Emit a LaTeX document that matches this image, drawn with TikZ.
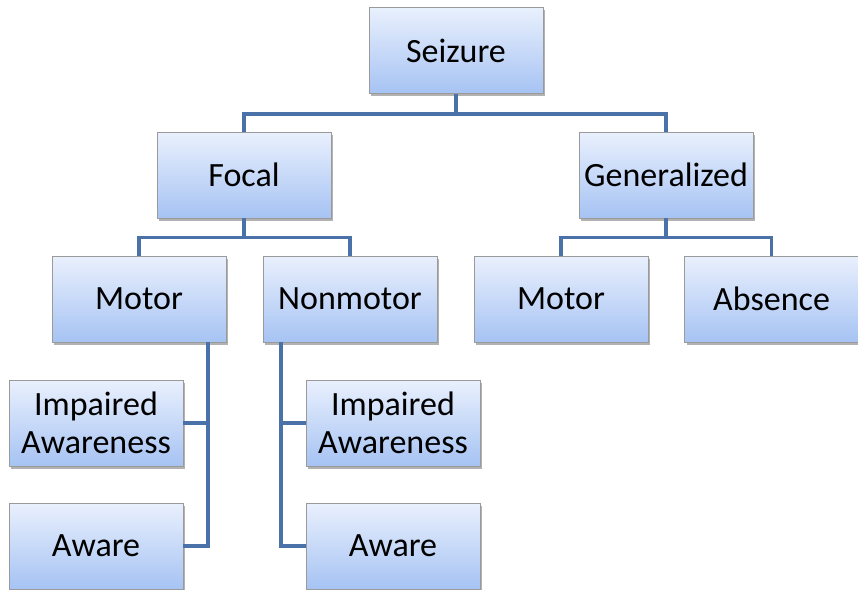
\documentclass[tikz,border=0pt]{standalone}
\usepackage{fontspec}
\setmainfont{Carlito}
\usetikzlibrary{shadows}
\definecolor{linkblue}{HTML}{4A72A8}
\definecolor{boxtop}{HTML}{E9F0FD}
\definecolor{boxbot}{HTML}{A6C3F3}
\definecolor{boxedge}{HTML}{9A9A9A}
\tikzset{
  box/.style={draw=boxedge, line width=0.8pt, top color=boxtop, bottom color=boxbot,
    minimum width=174pt, minimum height=86pt, inner sep=0pt, align=center,
    font=\fontsize{34}{38}\selectfont, text=black,
    drop shadow={shadow xshift=2pt, shadow yshift=-2.5pt, fill=black, opacity=0.3}},
  link/.style={draw=linkblue, line width=3.8pt}
}
\begin{document}
\begin{tikzpicture}[x=1pt,y=-1pt]
\useasboundingbox (0,0) rectangle (858,589);
\node[box] (seizure) at (456,50.5) {Seizure};
\node[box] (focal) at (244,175) {Focal};
\node[box] (gen) at (666,175) {Generalized};
\node[box] (motor) at (139,299) {Motor};
\node[box] (nonmotor) at (350,299) {Nonmotor};
\node[box] (gmotor) at (561,299) {Motor};
\node[box] (absence) at (771.5,299) {Absence};
\node[box] (impL) at (96,423) {Impaired\\Awareness};
\node[box] (awareL) at (96,546) {Aware};
\node[box] (impR) at (393,423) {Impaired\\Awareness};
\node[box] (awareR) at (393,546) {Aware};
\coordinate (sj) at ([yshift=-20pt]seizure.south);
\coordinate (fj) at ([yshift=-19pt]focal.south);
\coordinate (gj) at ([yshift=-19pt]gen.south);
\coordinate (mv) at ([xshift=69pt]motor.south);
\coordinate (nv) at ([xshift=-69pt]nonmotor.south);
\draw[link] (seizure.south) -- (sj) -| (focal.north);
\draw[link] (sj) -| (gen.north);
\draw[link] (focal.south) -- (fj) -| (motor.north);
\draw[link] (fj) -| (nonmotor.north);
\draw[link] (gen.south) -- (gj) -| (gmotor.north);
\draw[link] (gj) -| (absence.north);
\draw[link] (mv) |- (awareL.east);
\draw[link] (impL.east) -- (impL.east -| mv);
\draw[link] (nv) |- (awareR.west);
\draw[link] (impR.west) -- (impR.west -| nv);
\end{tikzpicture}
\end{document}
